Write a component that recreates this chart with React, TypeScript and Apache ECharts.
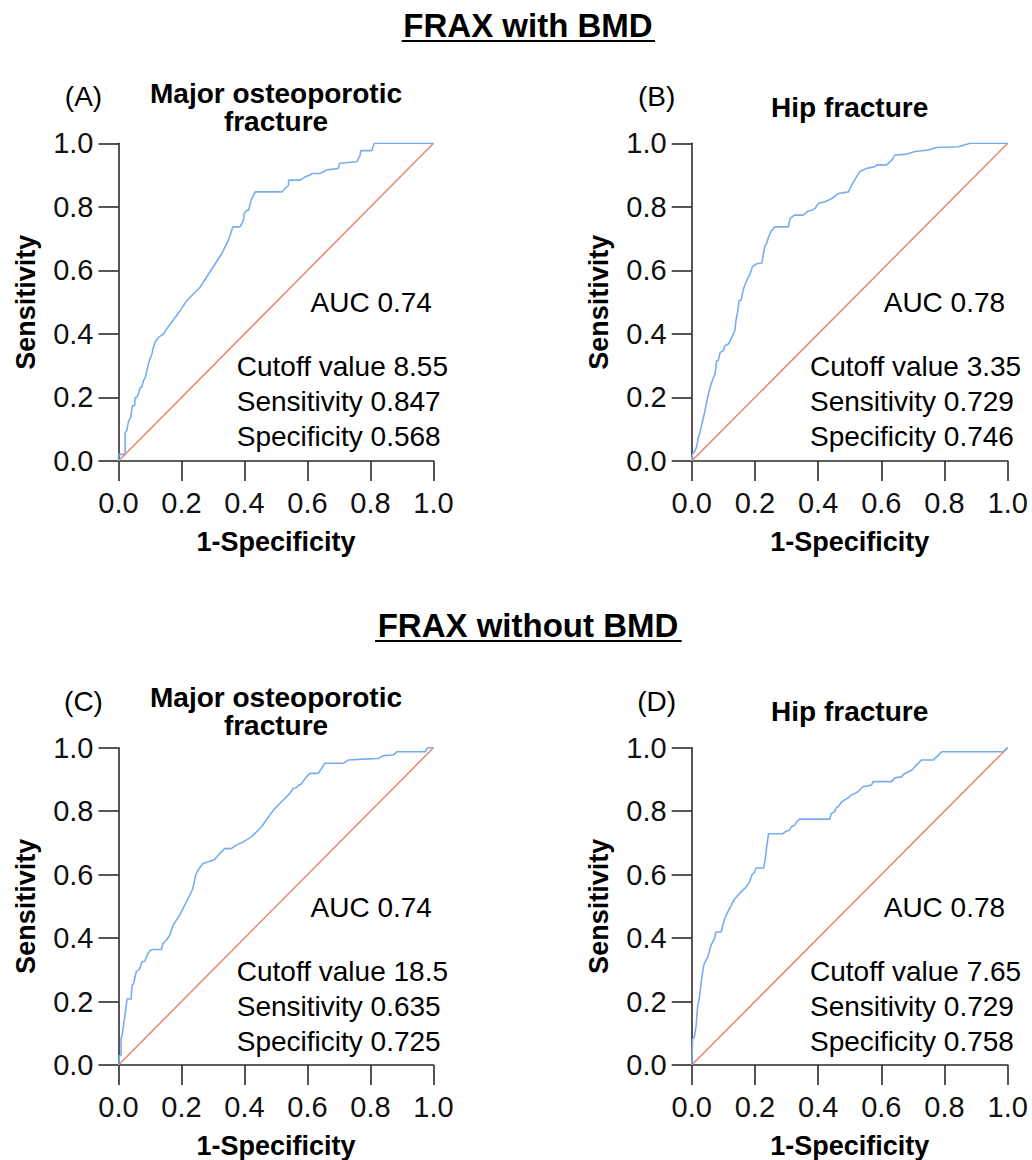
import React, { useEffect, useRef } from "react";
import * as echarts from "echarts";

// ---------- data ----------
const axisTicks = [0, 0.2, 0.4, 0.6, 0.8, 1.0];
const xAxisTitle = "1-Specificity";
const yAxisTitle = "Sensitivity";
const sectionTitles = ["FRAX with BMD", "FRAX without BMD"];

// (A) FRAX with BMD, major osteoporotic fracture
const fprA = [0, 0, 0.021, 0.021, 0.026, 0.032, 0.039, 0.044, 0.051, 0.053, 0.058, 0.063, 0.069, 0.074, 0.079, 0.085, 0.09, 0.095, 0.098, 0.106, 0.111, 0.116, 0.127, 0.143, 0.153, 0.169, 0.196, 0.217, 0.259, 0.28, 0.307, 0.328, 0.349, 0.363, 0.386, 0.397, 0.399, 0.407, 0.413, 0.421, 0.429, 0.434, 0.519, 0.529, 0.54, 0.54, 0.577, 0.593, 0.608, 0.614, 0.64, 0.661, 0.698, 0.702, 0.757, 0.767, 0.769, 0.804, 0.812, 1];
const sensA = [0, 0.021, 0.021, 0.089, 0.095, 0.126, 0.137, 0.174, 0.174, 0.2, 0.2, 0.211, 0.232, 0.232, 0.253, 0.263, 0.284, 0.305, 0.316, 0.337, 0.358, 0.374, 0.389, 0.4, 0.416, 0.437, 0.474, 0.505, 0.547, 0.579, 0.621, 0.653, 0.695, 0.737, 0.737, 0.758, 0.779, 0.789, 0.789, 0.821, 0.837, 0.847, 0.847, 0.858, 0.868, 0.884, 0.884, 0.895, 0.9, 0.905, 0.905, 0.916, 0.921, 0.937, 0.942, 0.963, 0.977, 0.977, 1.0, 1.0];

// (B) FRAX with BMD, hip fracture
const fprB = [0, 0.002, 0.011, 0.016, 0.021, 0.026, 0.032, 0.037, 0.042, 0.047, 0.053, 0.061, 0.069, 0.074, 0.079, 0.084, 0.09, 0.1, 0.105, 0.116, 0.127, 0.137, 0.14, 0.146, 0.15, 0.156, 0.164, 0.174, 0.185, 0.192, 0.206, 0.222, 0.227, 0.232, 0.237, 0.243, 0.253, 0.264, 0.306, 0.311, 0.325, 0.353, 0.369, 0.38, 0.39, 0.401, 0.422, 0.443, 0.464, 0.496, 0.506, 0.522, 0.533, 0.554, 0.58, 0.585, 0.617, 0.633, 0.643, 0.675, 0.707, 0.749, 0.775, 0.844, 0.881, 1];
const sensB = [0, 0.021, 0.032, 0.047, 0.074, 0.089, 0.116, 0.137, 0.158, 0.184, 0.211, 0.242, 0.263, 0.274, 0.316, 0.316, 0.342, 0.347, 0.363, 0.368, 0.389, 0.411, 0.442, 0.474, 0.505, 0.505, 0.542, 0.568, 0.589, 0.611, 0.621, 0.623, 0.653, 0.679, 0.684, 0.705, 0.726, 0.737, 0.737, 0.763, 0.774, 0.774, 0.787, 0.789, 0.795, 0.811, 0.816, 0.826, 0.842, 0.847, 0.868, 0.895, 0.911, 0.921, 0.926, 0.932, 0.932, 0.947, 0.963, 0.965, 0.974, 0.979, 0.987, 0.989, 1.0, 1.0];

// (C) FRAX without BMD, major osteoporotic fracture
const fprC = [0, 0.003, 0.008, 0.008, 0.012, 0.014, 0.019, 0.027, 0.04, 0.043, 0.048, 0.056, 0.067, 0.075, 0.083, 0.093, 0.101, 0.109, 0.136, 0.141, 0.152, 0.162, 0.173, 0.194, 0.21, 0.226, 0.236, 0.245, 0.252, 0.268, 0.29, 0.305, 0.321, 0.337, 0.358, 0.374, 0.396, 0.422, 0.454, 0.48, 0.496, 0.517, 0.544, 0.555, 0.565, 0.571, 0.576, 0.581, 0.597, 0.608, 0.634, 0.645, 0.655, 0.714, 0.73, 0.777, 0.825, 0.841, 0.873, 0.883, 0.973, 0.982, 1];
const sensC = [0, 0.03, 0.03, 0.082, 0.098, 0.098, 0.145, 0.208, 0.208, 0.251, 0.256, 0.293, 0.303, 0.326, 0.326, 0.351, 0.361, 0.364, 0.364, 0.382, 0.393, 0.408, 0.44, 0.472, 0.503, 0.535, 0.556, 0.598, 0.614, 0.635, 0.642, 0.648, 0.666, 0.682, 0.682, 0.693, 0.703, 0.719, 0.751, 0.787, 0.808, 0.829, 0.856, 0.872, 0.874, 0.882, 0.882, 0.887, 0.908, 0.919, 0.919, 0.935, 0.951, 0.951, 0.961, 0.964, 0.966, 0.975, 0.977, 0.987, 0.987, 1.0, 1.0];

// (D) FRAX without BMD, hip fracture
const fprD = [0, 0.003, 0.008, 0.014, 0.019, 0.024, 0.03, 0.038, 0.042, 0.051, 0.061, 0.072, 0.077, 0.093, 0.104, 0.114, 0.125, 0.133, 0.141, 0.156, 0.172, 0.183, 0.19, 0.199, 0.204, 0.228, 0.233, 0.236, 0.243, 0.289, 0.299, 0.31, 0.315, 0.326, 0.331, 0.341, 0.437, 0.442, 0.452, 0.458, 0.465, 0.474, 0.495, 0.505, 0.516, 0.526, 0.542, 0.569, 0.574, 0.632, 0.643, 0.664, 0.674, 0.696, 0.711, 0.727, 0.764, 0.791, 0.986, 1];
const sensD = [0, 0.082, 0.087, 0.124, 0.187, 0.208, 0.261, 0.314, 0.324, 0.34, 0.377, 0.398, 0.419, 0.419, 0.461, 0.482, 0.503, 0.519, 0.529, 0.545, 0.561, 0.577, 0.598, 0.608, 0.621, 0.621, 0.651, 0.677, 0.729, 0.729, 0.737, 0.74, 0.751, 0.756, 0.764, 0.775, 0.775, 0.793, 0.798, 0.811, 0.816, 0.829, 0.842, 0.851, 0.856, 0.861, 0.877, 0.882, 0.893, 0.893, 0.905, 0.908, 0.919, 0.929, 0.945, 0.961, 0.961, 0.987, 0.987, 1.0];

const refFpr = [0, 1];
const refSens = [0, 1];

const panelLetters = ["(A)", "(B)", "(C)", "(D)"];
const panelTitles = ["Major osteoporotic\nfracture", "Hip fracture", "Major osteoporotic\nfracture", "Hip fracture"];
const aucLabels = ["AUC 0.74", "AUC 0.78", "AUC 0.74", "AUC 0.78"];
const cutoffLabels = ["Cutoff value 8.55", "Cutoff value 3.35", "Cutoff value 18.5", "Cutoff value 7.65"];
const sensitivityLabels = ["Sensitivity 0.847", "Sensitivity 0.729", "Sensitivity 0.635", "Sensitivity 0.729"];
const specificityLabels = ["Specificity 0.568", "Specificity 0.746", "Specificity 0.725", "Specificity 0.758"];

const rocFpr = [fprA, fprB, fprC, fprD];
const rocSens = [sensA, sensB, sensC, sensD];

// ---------- layout / style ----------
const FONT = '"Liberation Sans", Arial, Helvetica, sans-serif';
const BLUE = "#79adf0";
const RED = "#e8866f";
const AXIS = "#2b2b2b";

const grids = [
  { left: 118.5, top: 143.3, width: 315, height: 317.7 },
  { left: 691.7, top: 143.3, width: 316, height: 317.7 },
  { left: 118.5, top: 747.7, width: 315, height: 317.3 },
  { left: 691.7, top: 747.7, width: 316, height: 317.3 },
];

const zip = (xs: number[], ys: number[]) => xs.map((x, i) => [x, ys[i]]);

function buildOption() {
  const series: any[] = [];
  rocFpr.forEach((f, i) => {
    series.push({
      type: "line",
      xAxisIndex: i,
      yAxisIndex: i,
      data: zip(refFpr, refSens),
      showSymbol: false,
      symbol: "none",
      lineStyle: { color: RED, width: 1.5 },
      z: 2,
    });
    series.push({
      type: "line",
      xAxisIndex: i,
      yAxisIndex: i,
      data: zip(f, rocSens[i]),
      showSymbol: false,
      symbol: "none",
      lineStyle: { color: BLUE, width: 1.6 },
      z: 3,
    });
  });

  const fmt = (v: number) => v.toFixed(1);
  const axisCommon = {
    type: "value",
    min: axisTicks[0],
    max: axisTicks[axisTicks.length - 1],
    interval: 0.2,
    splitLine: { show: false },
    axisLine: { show: true, onZero: false, lineStyle: { color: AXIS, width: 1.6 } },
    axisTick: { show: true, length: 20, lineStyle: { color: AXIS, width: 1.6 } },
    nameLocation: "middle",
    nameTextStyle: { fontSize: 27, fontWeight: "bold", color: "#000", fontFamily: FONT },
  };

  const xAxis = grids.map((_, i) => ({
    ...axisCommon,
    gridIndex: i,
    name: xAxisTitle,
    nameGap: 67,
    axisLabel: { fontSize: 29, color: "#111", margin: 27, fontFamily: FONT, formatter: fmt },
  }));
  const yAxis = grids.map((_, i) => ({
    ...axisCommon,
    gridIndex: i,
    name: yAxisTitle,
    nameGap: 79,
    axisLabel: { fontSize: 29, color: "#111", margin: 25, fontFamily: FONT, formatter: fmt },
  }));

  const graphic: any[] = [];
  const titleY = [25, 625];
  const underline = [
    [401.7, 655],
    [375, 681.7],
  ];
  sectionTitles.forEach((t, k) => {
    graphic.push({
      type: "text",
      x: 528,
      y: titleY[k],
      style: {
        text: t,
        fill: "#000",
        font: `bold 33px ${FONT}`,
        textAlign: "center",
        textVerticalAlign: "middle",
      },
    });
    graphic.push({
      type: "line",
      shape: { x1: underline[k][0], y1: titleY[k] + 16, x2: underline[k][1], y2: titleY[k] + 16 },
      style: { stroke: "#000", lineWidth: 2 },
    });
  });

  grids.forEach((g, i) => {
    const cx = g.left + g.width / 2;
    graphic.push({
      type: "text",
      x: g.left - 35,
      y: g.top - 46.5,
      style: {
        text: panelLetters[i],
        fill: "#000",
        font: `28px ${FONT}`,
        textAlign: "center",
        textVerticalAlign: "middle",
      },
    });
    graphic.push({
      type: "text",
      x: cx,
      y: g.top - 36,
      style: {
        text: panelTitles[i],
        fill: "#000",
        font: `bold 28px ${FONT}`,
        lineHeight: 28,
        textAlign: "center",
        textVerticalAlign: "middle",
      },
    });
    graphic.push({
      type: "text",
      x: g.left + 192,
      y: g.top + 159.5,
      style: {
        text: aucLabels[i],
        fill: "#000",
        font: `28px ${FONT}`,
        textAlign: "left",
        textVerticalAlign: "middle",
      },
    });
    [cutoffLabels[i], sensitivityLabels[i], specificityLabels[i]].forEach((t, j) => {
      graphic.push({
        type: "text",
        x: g.left + 118.3,
        y: g.top + 223.5 + j * 35,
        style: {
          text: t,
          fill: "#000",
          font: `28px ${FONT}`,
          textAlign: "left",
          textVerticalAlign: "middle",
        },
      });
    });
  });

  return {
    animation: false,
    backgroundColor: "#ffffff",
    grid: grids.map((g) => ({ ...g, containLabel: false })),
    xAxis,
    yAxis,
    series,
    graphic,
  };
}

export default function App() {
  const ref = useRef<HTMLDivElement>(null);
  useEffect(() => {
    document.body.style.margin = "0";
    if (!ref.current) return;
    const chart = echarts.init(ref.current, undefined, { renderer: "svg" });
    chart.setOption(buildOption() as any);
    return () => chart.dispose();
  }, []);
  return <div ref={ref} style={{ width: 1032, height: 1160 }} />;
}
